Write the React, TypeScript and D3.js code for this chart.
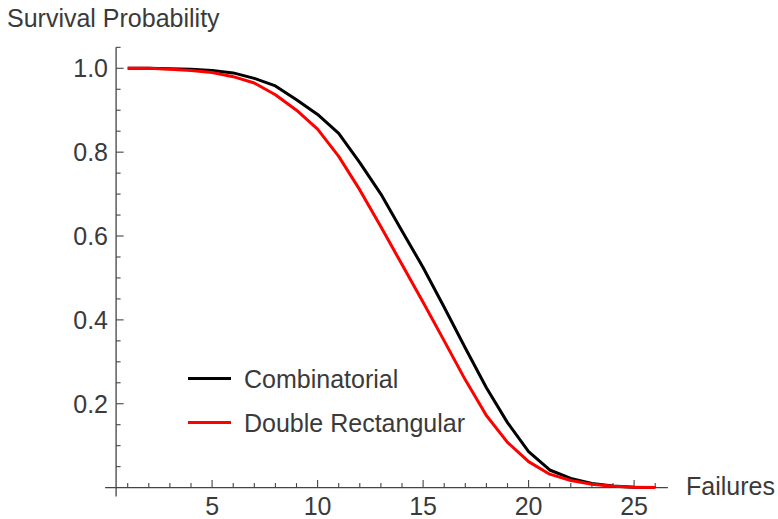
import React, { useEffect, useRef } from "react";
import * as d3 from "d3";

// failures count 1..26
const failures = d3.range(1, 27);
const combinatorial = [
  1.0, 1.0, 0.999, 0.998, 0.995, 0.989, 0.976, 0.958, 0.925, 0.89, 0.845,
  0.775, 0.7, 0.612, 0.525, 0.43, 0.333, 0.238, 0.155, 0.086, 0.042, 0.022,
  0.01, 0.004, 0.001, 0.0,
];
const doubleRectangular = [
  1.0, 1.0, 0.998, 0.995, 0.99, 0.98, 0.965, 0.937, 0.9, 0.855, 0.79, 0.71,
  0.622, 0.532, 0.442, 0.35, 0.257, 0.172, 0.108, 0.062, 0.032, 0.017, 0.008,
  0.003, 0.001, 0.0,
];
const seriesNames = ["Combinatorial", "Double Rectangular"];
const seriesColors = ["#000000", "#ff0000"];
const yTickLabels = [0.2, 0.4, 0.6, 0.8, 1.0];
const xTickLabels = [5, 10, 15, 20, 25];

const App = () => {
  const chartRef = useRef<SVGSVGElement>(null);

  useEffect(() => {
    const svg = d3.select(chartRef.current);
    svg.selectAll("*").remove();

    const width = 778;
    const height = 519;
    const font = "'Liberation Sans', Arial, Helvetica, sans-serif";
    const fontSize = 25;
    const textColor = "#3a3a3a";
    const axisColor = "#444";

    // scales
    const x = d3.scaleLinear().domain([0, 26]).range([106.6, 655.2]);
    const y = d3.scaleLinear().domain([0, 1]).range([487.6, 68.3]);

    svg.attr("width", width).attr("height", height);

    // axes lines
    const yAxisX = x(0.45);
    svg.append("line")
      .attr("x1", x(-0.07)).attr("x2", x(26.6))
      .attr("y1", y(0)).attr("y2", y(0))
      .attr("stroke", axisColor).attr("stroke-width", 1.3);
    svg.append("line")
      .attr("x1", yAxisX).attr("x2", yAxisX)
      .attr("y1", y(-0.021)).attr("y2", y(1.05))
      .attr("stroke", axisColor).attr("stroke-width", 1.3);

    // x ticks (pointing up)
    svg.append("g")
      .selectAll("line")
      .data(failures)
      .join("line")
      .attr("x1", (d) => x(d)).attr("x2", (d) => x(d))
      .attr("y1", y(0))
      .attr("y2", (d) => y(0) - (d % 5 === 0 ? 7.5 : 4.5))
      .attr("stroke", axisColor).attr("stroke-width", 1.1);

    svg.append("g")
      .selectAll("text")
      .data(xTickLabels)
      .join("text")
      .attr("x", (d) => x(d))
      .attr("y", 515)
      .attr("text-anchor", "middle")
      .attr("font-family", font).attr("font-size", fontSize)
      .attr("fill", textColor)
      .text((d) => d);

    // y ticks (pointing right)
    const yMinor = d3.range(1, 22).map((i) => i * 0.05);
    svg.append("g")
      .selectAll("line")
      .data(yMinor)
      .join("line")
      .attr("x1", yAxisX)
      .attr("x2", (_d, i) => yAxisX + ((i + 1) % 4 === 0 ? 7.5 : 4.5))
      .attr("y1", (d) => y(d)).attr("y2", (d) => y(d))
      .attr("stroke", axisColor).attr("stroke-width", 1.1);

    svg.append("g")
      .selectAll("text")
      .data(yTickLabels)
      .join("text")
      .attr("x", 108)
      .attr("y", (d) => y(d))
      .attr("dy", "0.36em")
      .attr("text-anchor", "end")
      .attr("font-family", font).attr("font-size", fontSize)
      .attr("fill", textColor)
      .text((d) => d.toFixed(1));

    // axis titles
    svg.append("text")
      .attr("x", 7).attr("y", 27)
      .attr("font-family", font).attr("font-size", fontSize)
      .attr("fill", textColor)
      .text("Survival Probability");
    svg.append("text")
      .attr("x", 686).attr("y", 495)
      .attr("font-family", font).attr("font-size", fontSize)
      .attr("fill", textColor)
      .text("Failures");

    // curves
    const line = d3
      .line<number>()
      .x((_d, i) => x(failures[i]))
      .y((d) => y(d));

    [combinatorial, doubleRectangular].forEach((vals, i) => {
      svg.append("path")
        .datum(vals)
        .attr("d", line)
        .attr("fill", "none")
        .attr("stroke", seriesColors[i])
        .attr("stroke-width", 3)
        .attr("stroke-linejoin", "round");
    });

    // legend
    const legend = svg.append("g");
    seriesNames.forEach((name, i) => {
      const ly = 378.5 + i * 44;
      legend.append("line")
        .attr("x1", 188).attr("x2", 231)
        .attr("y1", ly).attr("y2", ly)
        .attr("stroke", seriesColors[i]).attr("stroke-width", 3);
      legend.append("text")
        .attr("x", 244).attr("y", ly)
        .attr("dy", "0.36em")
        .attr("font-family", font).attr("font-size", fontSize)
        .attr("fill", textColor)
        .text(name);
    });
  }, []);

  return (
    <svg
      ref={chartRef}
      style={{ position: "absolute", left: 0, top: 0, background: "#fff" }}
    ></svg>
  );
};

export default App;
